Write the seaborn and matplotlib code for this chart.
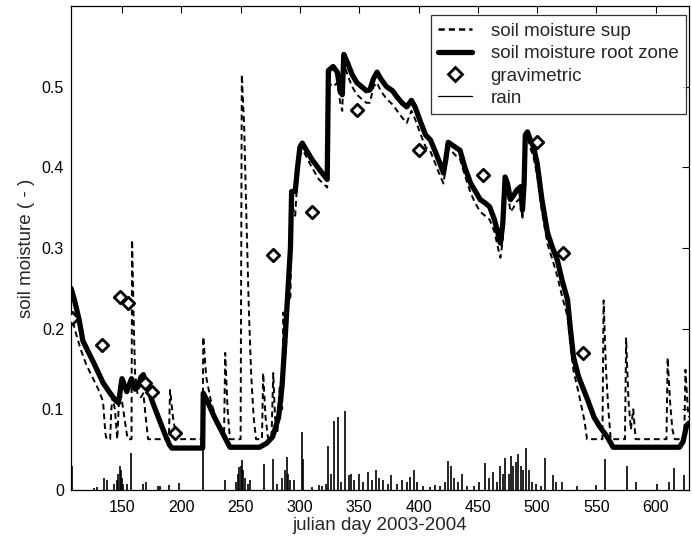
import numpy as np
import pandas as pd
import matplotlib
matplotlib.use("Agg")
import matplotlib.pyplot as plt
import seaborn as sns
from matplotlib.lines import Line2D

# ---------------- data ----------------
root_day = [107, 110, 114, 117, 122, 127, 134, 140, 144, 147, 150, 154, 158, 161, 163.5,
            166, 168, 172, 176, 182, 186, 190, 192, 218, 218.5, 222, 228, 235, 241, 266,
            272, 277, 282, 285, 288, 290, 292, 293, 296, 298, 300, 302, 304, 310, 316,
            323, 324, 328, 331.5, 334, 335.7, 337, 340, 344, 348, 352, 356, 359, 362, 365,
            368, 373, 378, 382, 386, 390, 394, 397, 402, 406, 410, 414, 418, 421, 423,
            425, 428, 431, 435, 439, 444, 448, 452, 456, 460, 464, 467, 469, 471, 473,
            475, 477.5, 480, 483, 486, 487.6, 489, 490, 491.8, 494, 497, 500, 504, 508.7,
            513, 517, 521, 525.6, 528, 530.6, 535, 542.5, 548, 553, 559, 564, 620, 623,
            626, 628]
root_val = [0.25, 0.235, 0.21, 0.185, 0.17, 0.155, 0.133, 0.12, 0.112, 0.108, 0.138, 0.122,
            0.138, 0.125, 0.128, 0.14, 0.143, 0.125, 0.108, 0.085, 0.07, 0.056, 0.052, 0.052,
            0.12, 0.11, 0.09, 0.07, 0.053, 0.053, 0.058, 0.066, 0.09, 0.13, 0.2, 0.25, 0.3,
            0.37, 0.37, 0.4, 0.425, 0.43, 0.425, 0.41, 0.398, 0.385, 0.52, 0.525, 0.518,
            0.495, 0.49, 0.54, 0.53, 0.515, 0.505, 0.5, 0.495, 0.496, 0.51, 0.518, 0.51,
            0.5, 0.495, 0.487, 0.48, 0.475, 0.483, 0.475, 0.455, 0.44, 0.434, 0.42, 0.405,
            0.393, 0.41, 0.431, 0.428, 0.425, 0.421, 0.4, 0.38, 0.37, 0.36, 0.356, 0.351,
            0.335, 0.318, 0.306, 0.33, 0.388, 0.38, 0.36, 0.365, 0.372, 0.376, 0.347, 0.38,
            0.44, 0.444, 0.435, 0.425, 0.405, 0.36, 0.319, 0.3, 0.285, 0.26, 0.236, 0.2,
            0.165, 0.14, 0.112, 0.09, 0.078, 0.066, 0.053, 0.053, 0.06, 0.08, 0.083]

sup_day = [107, 110, 115, 120, 125, 130, 134, 136, 137, 140, 141, 142, 144, 146, 148, 150,
           152, 154, 155, 158, 158.5, 160, 161, 163, 166, 168, 170, 172, 189.5, 190.5, 193,
           196, 218, 218.5, 221, 225, 229, 233, 236, 237, 239, 241, 250, 251, 253, 255,
           257, 259, 261, 263, 268, 269, 271, 273, 276, 277.5, 279, 281, 283, 285, 286,
           288, 290, 292, 293, 296, 298, 300, 303, 310, 316, 323, 324, 328, 331.5, 334,
           335.7, 337, 340, 344, 348, 352, 356, 359, 362, 365, 368, 373, 378, 382, 386,
           390, 394, 397, 402, 406, 410, 414, 418, 421, 423, 425, 428, 431, 435, 439, 444,
           448, 452, 456, 460, 464, 467, 469, 471, 473, 475, 477.5, 480, 483, 486, 487.6,
           489, 490, 491.8, 494, 497, 500, 504, 508.7, 513, 517, 521, 525.6, 528, 530.6,
           535, 540, 542, 555, 556, 558, 560, 562, 574, 575, 577, 579, 581, 583, 609, 610,
           612, 614, 616, 624, 625, 627, 628]
sup_val = [0.22, 0.2, 0.175, 0.155, 0.14, 0.125, 0.11, 0.07, 0.063, 0.063, 0.1, 0.115, 0.1,
           0.063, 0.13, 0.11, 0.09, 0.07, 0.063, 0.063, 0.31, 0.2, 0.145, 0.12, 0.115, 0.12,
           0.09, 0.063, 0.063, 0.124, 0.09, 0.063, 0.063, 0.19, 0.14, 0.11, 0.09, 0.075,
           0.065, 0.17, 0.1, 0.063, 0.063, 0.515, 0.45, 0.33, 0.22, 0.14, 0.09, 0.063,
           0.063, 0.145, 0.09, 0.065, 0.063, 0.145, 0.09, 0.07, 0.13, 0.1, 0.22, 0.17,
           0.23, 0.24, 0.355, 0.34, 0.39, 0.415, 0.42, 0.4, 0.385, 0.375, 0.505, 0.5,
           0.505, 0.48, 0.47, 0.53, 0.515, 0.5, 0.49, 0.485, 0.48, 0.48, 0.5, 0.505, 0.495,
           0.485, 0.478, 0.47, 0.462, 0.455, 0.47, 0.46, 0.44, 0.425, 0.42, 0.405, 0.39,
           0.38, 0.4, 0.425, 0.42, 0.415, 0.41, 0.39, 0.368, 0.355, 0.345, 0.34, 0.335,
           0.32, 0.3, 0.288, 0.31, 0.38, 0.37, 0.345, 0.35, 0.358, 0.362, 0.335, 0.37,
           0.435, 0.44, 0.425, 0.412, 0.39, 0.345, 0.305, 0.285, 0.265, 0.24, 0.215, 0.18,
           0.148, 0.12, 0.085, 0.063, 0.063, 0.235, 0.15, 0.1, 0.063, 0.063, 0.188, 0.11,
           0.075, 0.1, 0.063, 0.063, 0.164, 0.11, 0.075, 0.063, 0.063, 0.149, 0.1, 0.09]

grav_day = [108, 133, 148.4, 155, 169.5, 175, 195, 277.5, 310, 348, 400, 454, 500, 522, 539]
grav_val = [0.213, 0.18, 0.239, 0.232, 0.133, 0.121, 0.071, 0.291, 0.345, 0.471, 0.421,
            0.39, 0.431, 0.294, 0.17]

rain_day = [108, 126, 129, 135, 137, 143, 146, 147, 148, 149, 150, 151, 154, 158, 168, 170,
            180, 182, 190, 198, 218.5, 237, 246, 248, 249, 250, 251, 252, 254, 256, 258,
            270, 277, 281, 285, 287, 289, 290, 292, 295, 302, 303, 310, 316, 319, 322, 324,
            326, 329, 332, 335, 338, 341, 343, 346, 350, 353, 357, 361, 364, 367, 370, 374,
            377, 382, 386, 390, 393, 396, 399, 404, 410, 414, 418, 422, 425, 427, 430, 433,
            437, 441, 447, 451, 456, 459, 463, 466, 469, 471, 473, 476, 478, 480, 482, 484,
            486, 488, 491, 493, 496, 499, 503, 507, 513, 516, 521, 534, 550, 557, 576, 583,
            601, 611, 615, 624]
rain_val = [0.03, 0.003, 0.004, 0.015, 0.013, 0.007, 0.012, 0.02, 0.03, 0.025, 0.015, 0.008,
            0.008, 0.046, 0.008, 0.01, 0.005, 0.005, 0.006, 0.009, 0.058, 0.012, 0.01, 0.02,
            0.028, 0.03, 0.037, 0.025, 0.015, 0.008, 0.012, 0.032, 0.039, 0.007, 0.015,
            0.025, 0.041, 0.02, 0.012, 0.012, 0.072, 0.038, 0.004, 0.006, 0.005, 0.008,
            0.055, 0.02, 0.085, 0.09, 0.01, 0.098, 0.018, 0.02, 0.012, 0.02, 0.01, 0.022,
            0.012, 0.025, 0.015, 0.012, 0.008, 0.018, 0.008, 0.012, 0.01, 0.016, 0.025,
            0.01, 0.005, 0.004, 0.006, 0.005, 0.01, 0.036, 0.03, 0.015, 0.01, 0.02, 0.005,
            0.005, 0.01, 0.033, 0.015, 0.022, 0.01, 0.03, 0.02, 0.04, 0.02, 0.042, 0.03,
            0.035, 0.045, 0.03, 0.025, 0.052, 0.025, 0.01, 0.008, 0.005, 0.04, 0.019, 0.01,
            0.01, 0.005, 0.006, 0.038, 0.03, 0.01, 0.008, 0.01, 0.027, 0.018]

x_ticks = [150, 200, 250, 300, 350, 400, 450, 500, 550, 600]
y_ticks = [0, 0.1, 0.2, 0.3, 0.4, 0.5]
y_ticklabels = ["0", "0.1", "0.2", "0.3", "0.4", "0.5"]
labels = ["soil moisture sup", "soil moisture root zone", "gravimetric", "rain"]

# ---------------- figure ----------------
sns.set_style("white")
plt.rcParams["font.family"] = ["Liberation Sans", "DejaVu Sans"]
FS = 11.5
FL = 13.5

fig = plt.figure(figsize=(6.92, 5.42), dpi=100)
ax = fig.add_axes([71 / 692, 52 / 542, 618 / 692, 484 / 542])

df_rain = pd.DataFrame({"day": rain_day, "rain": rain_val})
ax.vlines(df_rain["day"], 0, df_rain["rain"], color="black", linewidth=1.2)

df_sup = pd.DataFrame({"day": sup_day, "val": sup_val})
sns.lineplot(data=df_sup, x="day", y="val", ax=ax, color="black", linewidth=1.4,
             estimator=None, sort=False, linestyle="--")
ax.lines[-1].set_dashes([3.0, 2.0])

df_root = pd.DataFrame({"day": root_day, "val": root_val})
sns.lineplot(data=df_root, x="day", y="val", ax=ax, color="black", linewidth=3.8,
             estimator=None, sort=False)

df_grav = pd.DataFrame({"day": grav_day, "val": grav_val})
sns.scatterplot(data=df_grav, x="day", y="val", ax=ax, marker="D", s=40,
                facecolor="white", edgecolor="black", linewidth=2.0, zorder=5)

ax.set_xlim(107, 628)
ax.set_ylim(0, 0.6)
ax.set_xticks(x_ticks)
ax.set_yticks(y_ticks)
ax.set_yticklabels(y_ticklabels)
ax.tick_params(direction="in", top=True, right=True, length=5, width=0.8,
               labelsize=FS, colors="black")
ax.tick_params(axis="x", pad=7)
ax.tick_params(axis="y", pad=5)
for sp in ax.spines.values():
    sp.set_color("black")
    sp.set_linewidth(0.9)
ax.set_xlabel("julian day 2003-2004", fontsize=FL, labelpad=2)
ax.set_ylabel("soil moisture ( - )", fontsize=FL, labelpad=5)

handles = [
    Line2D([], [], color="black", linewidth=1.8, linestyle=(0, (2.5, 1.6))),
    Line2D([], [], color="black", linewidth=3.8),
    Line2D([], [], color="black", linestyle="none", marker="D", markersize=7,
           markerfacecolor="white", markeredgewidth=2.0),
    Line2D([], [], color="black", linewidth=0.9),
]
leg = ax.legend(handles, labels, loc="upper right", bbox_to_anchor=(0.995, 0.981),
                borderaxespad=0, fontsize=FL, frameon=True, fancybox=False,
                edgecolor="black", handlelength=1.8, handletextpad=1.0,
                labelspacing=0.28, borderpad=0.4)
leg.get_frame().set_linewidth(0.9)

fig.savefig("out.png", dpi=100, facecolor="white")
